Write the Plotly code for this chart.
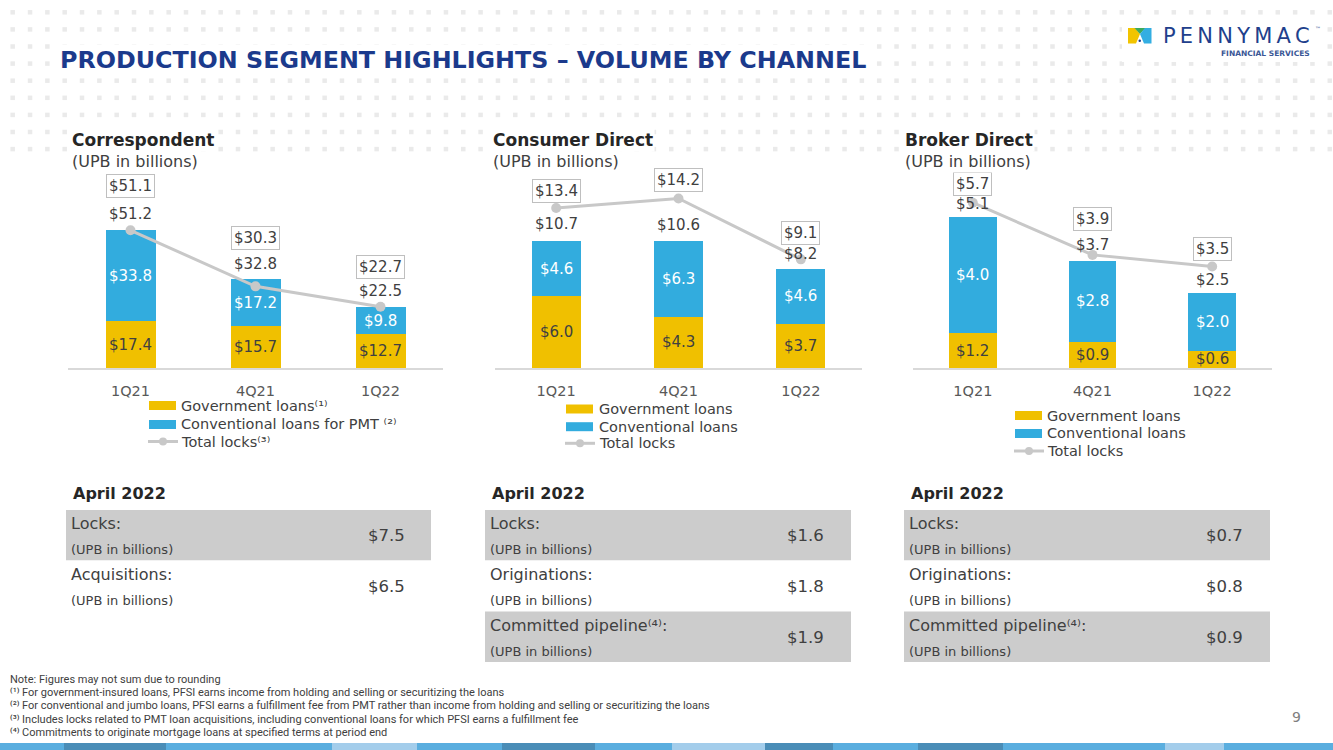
import numpy as np
import plotly.graph_objects as go

W, H = 1333, 750
FONT = "DejaVu Sans"
NOTE_FONT = "Roboto, DejaVu Sans"
GOLD = "#F0C000"
BLUE = "#32ACDE"
LINE = "#C8C8C8"
TXT = "#404040"
NAVY = "#1B3A8C"

# ---------------- data ----------------
quarters = ["1Q21", "4Q21", "1Q22"]

corr_gov = [17.4, 15.7, 12.7]
corr_conv = [33.8, 17.2, 9.8]
corr_total = [51.2, 32.8, 22.5]
corr_locks = [51.1, 30.3, 22.7]

cd_gov = [6.0, 4.3, 3.7]
cd_conv = [4.6, 6.3, 4.6]
cd_total = [10.7, 10.6, 8.2]
cd_locks = [13.4, 14.2, 9.1]

bd_gov = [1.2, 0.9, 0.6]
bd_conv = [4.0, 2.8, 2.0]
bd_total = [5.1, 3.7, 2.5]
bd_locks = [5.7, 3.9, 3.5]

corr_table_labels = ["Locks:", "Acquisitions:"]
corr_table_values = [7.5, 6.5]
cd_table_labels = ["Locks:", "Originations:", "Committed pipeline⁽⁴⁾:"]
cd_table_values = [1.6, 1.8, 1.9]
bd_table_labels = ["Locks:", "Originations:", "Committed pipeline⁽⁴⁾:"]
bd_table_values = [0.7, 0.8, 0.9]

corr_legend = ["Government loans⁽¹⁾", "Conventional loans for PMT ⁽²⁾", "Total locks⁽³⁾"]
std_legend = ["Government loans", "Conventional loans", "Total locks"]

footnotes = [
    "Note: Figures may not sum due to rounding",
    "⁽¹⁾ For government-insured loans, PFSI earns income from holding and selling or securitizing the loans",
    "⁽²⁾ For conventional and jumbo loans, PFSI earns a fulfillment fee from PMT rather than income from holding and selling or securitizing the loans",
    "⁽³⁾ Includes locks related to PMT loan acquisitions, including conventional loans for which PFSI earns a fulfillment fee",
    "⁽⁴⁾ Commitments to originate mortgage loans at specified terms at period end",
]

# ---------------- layout helpers ----------------
def px(x):
    return x / W

def py(y):
    return 1 - y / H

Y_BASE, Y_TOP = 368, 170
PLOT_H = Y_BASE - Y_TOP

panels = [
    dict(title="Correspondent", gov=corr_gov, conv=corr_conv, total=corr_total, locks=corr_locks,
         dom=(68, 443), ymax=PLOT_H / 2.695, head_x=70, lock_shift=[44.5, 48.3, 40.3],
         legend=corr_legend, sw_x=149, lt_x=179, leg_y=[405.5, 424.5, 441.5],
         t_labels=corr_table_labels, t_values=corr_table_values, t_x=(66, 431), v_x=386),
    dict(title="Consumer Direct", gov=cd_gov, conv=cd_conv, total=cd_total, locks=cd_locks,
         dom=(495, 862), ymax=PLOT_H / 11.94, head_x=491, lock_shift=[16.7, 18, 26.8],
         legend=std_legend, sw_x=566, lt_x=597, leg_y=[409, 426.7, 443.3],
         t_labels=cd_table_labels, t_values=cd_table_values, t_x=(485, 851), v_x=805),
    dict(title="Broker Direct", gov=bd_gov, conv=bd_conv, total=bd_total, locks=bd_locks,
         dom=(913, 1272), ymax=PLOT_H / 29.0, head_x=903, lock_shift=[18.3, 35.5, 18],
         legend=std_legend, sw_x=1015, lt_x=1045, leg_y=[415.5, 433.5, 451],
         t_labels=bd_table_labels, t_values=bd_table_values, t_x=(904, 1270), v_x=1224),
]

fig = go.Figure()
annotations = []
shapes = []
layout_axes = {}

# background dot pattern (decorative)
dot_x = np.arange(12.7, W, 17.33)
dot_y = np.arange(12.3, 152, 17.1)
gx, gy = np.meshgrid(dot_x, dot_y)
fig.add_trace(go.Scatter(x=gx.ravel(), y=gy.ravel(), mode="markers", xaxis="x4", yaxis="y4",
                         marker=dict(symbol="square", size=4.5, color="#EAEAEA"),
                         hoverinfo="skip", showlegend=False))

for i, p in enumerate(panels):
    ax = "" if i == 0 else str(i + 1)
    xa, ya = "x" + ax, "y" + ax
    unit = p["ymax"] / PLOT_H  # data units per pixel
    fig.add_trace(go.Bar(x=quarters, y=p["gov"], xaxis=xa, yaxis=ya, width=0.4, name="Government loans",
                         marker=dict(color=GOLD, line=dict(width=0)),
                         hoverinfo="skip", showlegend=False))
    fig.add_trace(go.Bar(x=quarters, y=p["conv"], xaxis=xa, yaxis=ya, width=0.4, name="Conventional loans",
                         marker=dict(color=BLUE, line=dict(width=0)),
                         hoverinfo="skip", showlegend=False))
    fig.add_trace(go.Scatter(x=quarters, y=p["locks"], xaxis=xa, yaxis=ya, mode="lines+markers",
                             name="Total locks", line=dict(color=LINE, width=3),
                             marker=dict(size=10, color=LINE), hoverinfo="skip", showlegend=False))

    layout_axes["xaxis" + ax] = dict(domain=[px(p["dom"][0]), px(p["dom"][1])], anchor=ya,
                                     type="category", categoryorder="array", categoryarray=quarters,
                                     range=[-0.5, 2.5], showline=True, linecolor="#D9D9D9", linewidth=1.5,
                                     showgrid=False, zeroline=False, ticks="",
                                     tickfont=dict(family=FONT, size=14.5, color="#595959"),
                                     ticklabelstandoff=9, fixedrange=True)
    layout_axes["yaxis" + ax] = dict(domain=[py(Y_BASE), py(Y_TOP)], anchor=xa, range=[0, p["ymax"]],
                                     visible=False, fixedrange=True)

    for j, q in enumerate(quarters):
        g, c = p["gov"][j], p["conv"][j]
        # segment labels (centred in each stacked segment)
        annotations.append(dict(x=q, y=g / 2, xref=xa, yref=ya, text=f"${g:.1f}", showarrow=False,
                                yanchor="middle", font=dict(family=FONT, size=15, color=TXT)))
        annotations.append(dict(x=q, y=g + c / 2, xref=xa, yref=ya, text=f"${c:.1f}", showarrow=False,
                                yanchor="middle", font=dict(family=FONT, size=15, color="white")))
        # bar totals (above bar) and boxed lock values (above the line point)
        annotations.append(dict(x=q, y=p["total"][j] + 16 * unit, xref=xa, yref=ya,
                                text=f"${p['total'][j]:.1f}", showarrow=False, yanchor="middle",
                                font=dict(family=FONT, size=15, color=TXT)))
        annotations.append(dict(x=q, y=p["locks"][j] + p["lock_shift"][j] * unit, xref=xa, yref=ya,
                                text=f"${p['locks'][j]:.1f}", showarrow=False, yanchor="middle",
                                bordercolor="#BFBFBF", borderwidth=1, borderpad=2,
                                font=dict(family=FONT, size=15, color=TXT)))

    # headings
    annotations.append(dict(x=px(p["head_x"]), y=py(140), xref="paper", yref="paper", xanchor="left",
                            yanchor="middle", showarrow=False, text=f"<b>{p['title']}</b>", bgcolor="white",
                            font=dict(family=FONT, size=17, color="#262626")))
    annotations.append(dict(x=px(p["head_x"]), y=py(161), xref="paper", yref="paper", xanchor="left",
                            yanchor="middle", showarrow=False, text="(UPB in billions)", bgcolor="white",
                            font=dict(family=FONT, size=16, color=TXT)))

    # legend (drawn)
    sx, ly = p["sw_x"], p["leg_y"]
    for k, col in enumerate([GOLD, BLUE]):
        shapes.append(dict(type="rect", xref="paper", yref="paper", x0=px(sx), x1=px(sx + 27),
                           y0=py(ly[k] + 4.5), y1=py(ly[k] - 4.5), fillcolor=col, line=dict(width=0)))
    shapes.append(dict(type="line", xref="paper", yref="paper", x0=px(sx - 1), x1=px(sx + 29),
                       y0=py(ly[2]), y1=py(ly[2]), line=dict(color=LINE, width=3)))
    shapes.append(dict(type="circle", xref="paper", yref="paper", x0=px(sx + 10), x1=px(sx + 18),
                       y0=py(ly[2] + 4), y1=py(ly[2] - 4), fillcolor=LINE, line=dict(width=0)))
    for k, name in enumerate(p["legend"]):
        annotations.append(dict(x=px(p["lt_x"]), y=py(ly[k]), xref="paper", yref="paper", xanchor="left",
                                yanchor="middle", showarrow=False, text=name,
                                font=dict(family=FONT, size=14.5, color=TXT)))

    # table
    tx0, tx1 = p["t_x"]
    annotations.append(dict(x=px(tx0 + 5), y=py(493), xref="paper", yref="paper", xanchor="left",
                            yanchor="middle", showarrow=False, text="<b>April 2022</b>",
                            font=dict(family=FONT, size=16, color="#262626")))
    for k, lab in enumerate(p["t_labels"]):
        y0 = 510 + 50.8 * k
        if k % 2 == 0:
            shapes.append(dict(type="rect", xref="paper", yref="paper", x0=px(tx0), x1=px(tx1),
                               y0=py(y0 + 50.3), y1=py(y0), fillcolor="#CCCCCC", line=dict(width=0),
                               layer="below"))
        annotations.append(dict(x=px(tx0 + 3), y=py(y0 + 13.5), xref="paper", yref="paper", xanchor="left",
                                yanchor="middle", showarrow=False, text=lab,
                                font=dict(family=FONT, size=16, color=TXT)))
        annotations.append(dict(x=px(tx0 + 3), y=py(y0 + 39.5), xref="paper", yref="paper", xanchor="left",
                                yanchor="middle", showarrow=False, text="(UPB in billions)",
                                font=dict(family=FONT, size=13, color=TXT)))
        annotations.append(dict(x=px(p["v_x"]), y=py(y0 + 25.5), xref="paper", yref="paper", xanchor="center",
                                yanchor="middle", showarrow=False, text=f"${p['t_values'][k]:.1f}",
                                font=dict(family=FONT, size=16.5, color=TXT)))

# overlay axis for decorative pattern
layout_axes["xaxis4"] = dict(domain=[0, 1], anchor="y4", range=[0, W], visible=False, fixedrange=True)
layout_axes["yaxis4"] = dict(domain=[0, 1], anchor="x4", range=[H, 0], visible=False, fixedrange=True)

# title
annotations.append(dict(x=px(58), y=py(60), xref="paper", yref="paper", xanchor="left", yanchor="middle",
                        showarrow=False, text="<b>PRODUCTION SEGMENT HIGHLIGHTS – VOLUME BY CHANNEL</b>",
                        bgcolor="white", font=dict(family=FONT, size=23.8, color=NAVY)))

# logo
shapes.append(dict(type="rect", xref="paper", yref="paper", x0=px(1122), x1=px(1322), y0=py(62), y1=py(20),
                   fillcolor="white", line=dict(width=0), layer="above"))
logo_parts = [
    ("M {} {} L {} {} L {} {} L {} {} L {} {} Z", [(1128, 28), (1135, 28), (1140, 34), (1136, 43.5), (1128, 43.5)], "#F2C400"),
    ("M {} {} L {} {} L {} {} Z", [(1134.5, 28), (1145.5, 28), (1140, 34)], "#3DAA5C"),
    ("M {} {} L {} {} L {} {} L {} {} L {} {} Z", [(1145, 28), (1151.5, 28), (1151.5, 43.5), (1144, 43.5), (1140, 34)], "#33AEE2"),
]
for tmpl, pts, col in logo_parts:
    coords = []
    for (a, b) in pts:
        coords += [f"{px(a):.5f}", f"{py(b):.5f}"]
    shapes.append(dict(type="path", xref="paper", yref="paper", path=tmpl.format(*coords),
                       fillcolor=col, line=dict(width=0), layer="above"))
shapes.append(dict(type="circle", xref="paper", yref="paper", x0=px(1138.5), x1=px(1141), y0=py(42), y1=py(39.5),
                   fillcolor=NAVY, line=dict(width=0), layer="above"))
annotations.append(dict(x=px(1161), y=py(36), xref="paper", yref="paper", xanchor="left", yanchor="middle",
                        showarrow=False, text="P\u2009E\u2009N\u2009N\u2009Y\u2009M\u2009A\u2009C",
                        font=dict(family=FONT, size=21, color="#213F8C")))
annotations.append(dict(x=px(1313), y=py(29), xref="paper", yref="paper", xanchor="left", yanchor="middle",
                        showarrow=False, text="™", font=dict(family=FONT, size=6, color="#213F8C")))
annotations.append(dict(x=px(1312), y=py(53.5), xref="paper", yref="paper", xanchor="right", yanchor="middle",
                        showarrow=False, text="<b>FINANCIAL SERVICES</b>",
                        font=dict(family=FONT, size=7.5, color="#3A5796")))

# footnotes
for k, t in enumerate(footnotes):
    annotations.append(dict(x=px(8), y=py(679 + 13.4 * k), xref="paper", yref="paper", xanchor="left",
                            yanchor="middle", showarrow=False, text=t,
                            font=dict(family=NOTE_FONT, size=11, color=TXT)))
annotations.append(dict(x=px(1296), y=py(717), xref="paper", yref="paper", xanchor="center", yanchor="middle",
                        showarrow=False, text="9", font=dict(family=FONT, size=14, color="#7F7F7F")))

# bottom decorative band
band = [(0, 64, "#5AAEDF"), (64, 166, "#4A8DB7"), (166, 332, "#5AAEDF"), (332, 417, "#A3CDEB"),
        (417, 502, "#5AAEDF"), (502, 595, "#4A8DB7"), (595, 672, "#5AAEDF"), (672, 765, "#A3CDEB"),
        (765, 833, "#4A8DB7"), (833, 918, "#5AAEDF"), (918, 1003, "#4A8DB7"), (1003, 1165, "#5AAEDF"),
        (1165, 1224, "#A3CDEB"), (1224, 1333, "#5AAEDF")]
for a, b, col in band:
    shapes.append(dict(type="rect", xref="paper", yref="paper", x0=px(a), x1=px(b), y0=0, y1=py(743),
                       fillcolor=col, line=dict(width=0)))

fig.update_layout(
    width=W, height=H, margin=dict(l=0, r=0, t=0, b=0),
    paper_bgcolor="white", plot_bgcolor="rgba(0,0,0,0)",
    barmode="stack", showlegend=False,
    annotations=annotations, shapes=shapes,
    font=dict(family=FONT, color=TXT),
    **layout_axes,
)

fig.write_html("out.html", config={"displayModeBar": False},
               post_script="document.body.style.margin='0px';document.body.style.overflow='hidden';")
